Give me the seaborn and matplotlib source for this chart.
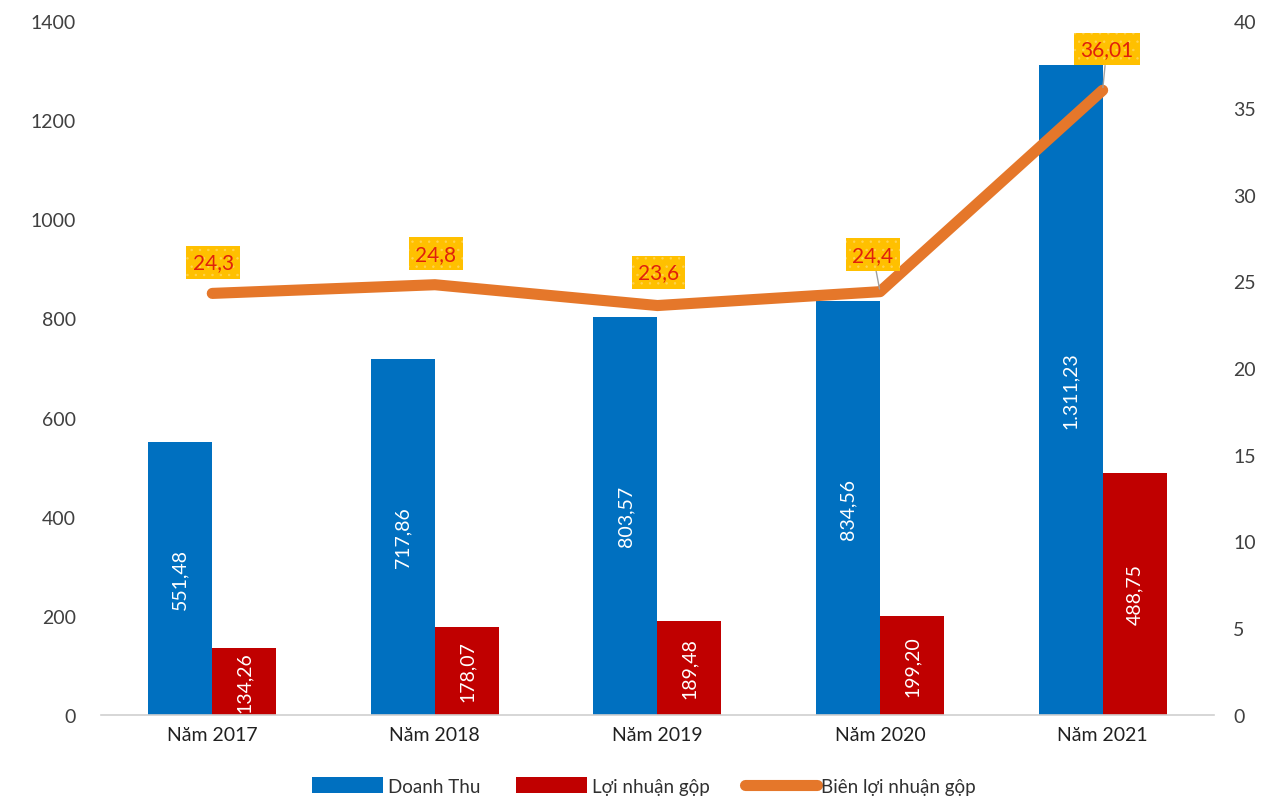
import matplotlib
matplotlib.use("Agg")
import matplotlib.pyplot as plt
from matplotlib.patches import Patch
from matplotlib.lines import Line2D
import seaborn as sns
import pandas as pd

# Data
years = ["Năm 2017", "Năm 2018", "Năm 2019", "Năm 2020", "Năm 2021"]
doanh_thu = [551.48, 717.86, 803.57, 834.56, 1311.23]
loi_nhuan_gop = [134.26, 178.07, 189.48, 199.20, 488.75]
bien_loi_nhuan = [24.3, 24.8, 23.6, 24.4, 36.01]
left_ticks = [0, 200, 400, 600, 800, 1000, 1200, 1400]
right_ticks = [0, 5, 10, 15, 20, 25, 30, 35, 40]

SERIES_DT = "Doanh Thu"
SERIES_LN = "Lợi nhuận gộp"
SERIES_BIEN = "Biên lợi nhuận gộp"

BLUE = "#0070C0"
RED = "#C00000"
ORANGE = "#E5772A"
TICK = "#404040"

sns.set_theme(style="white")
plt.rcParams["font.family"] = ["Lato", "DejaVu Sans"]
plt.rcParams["hatch.linewidth"] = 0.5


def vn_number(v):
    s = f"{v:,.2f}"
    return s.replace(",", "X").replace(".", ",").replace("X", ".")


def vn_short(v):
    return f"{v:g}".replace(".", ",")


bars = pd.DataFrame({
    "year": years * 2,
    "value": doanh_thu + loi_nhuan_gop,
    "series": [SERIES_DT] * len(years) + [SERIES_LN] * len(years),
})
line = pd.DataFrame({"year": years, "pct": bien_loi_nhuan})

fig = plt.figure(figsize=(12.88, 8.04), dpi=100)
ax = fig.add_axes([0.0784, 0.1095, 0.8641, 0.8631])

sns.barplot(data=bars, x="year", y="value", hue="series",
            palette=[BLUE, RED], width=0.575, saturation=1,
            linewidth=0, ax=ax, legend=False, order=years)

# values written inside each bar
for container in ax.containers:
    for rect in container:
        h = rect.get_height()
        ax.text(rect.get_x() + rect.get_width() / 2, h / 2, vn_number(h),
                rotation=90, ha="center", va="center",
                color="white", fontsize=14)

ax.set_ylim(0, 1400)
ax.set_yticks(left_ticks)
ax.set_xlim(-0.5, len(years) - 0.5)
ax.set_xlabel("")
ax.set_ylabel("")
ax.tick_params(axis="both", length=0, labelsize=14, colors=TICK, pad=8)
ax.tick_params(axis="y", pad=18)
for side in ["left", "right", "top"]:
    ax.spines[side].set_visible(False)
ax.spines["bottom"].set_color("#D0D0D0")
ax.spines["bottom"].set_linewidth(1.2)
for lbl in ax.get_xticklabels():
    lbl.set_color("#202020")

ax2 = ax.twinx()
sns.lineplot(data=line, x="year", y="pct", color=ORANGE, linewidth=8,
             ax=ax2, sort=False, solid_capstyle="round", legend=False)
ax2.set_ylim(0, 40)
ax2.set_yticks(right_ticks)
ax2.set_ylabel("")
ax2.set_xlim(-0.5, len(years) - 0.5)
ax2.tick_params(axis="y", length=0, labelsize=14, colors=TICK, pad=14)
for side in ["left", "right", "top", "bottom"]:
    ax2.spines[side].set_visible(False)

# margin labels in yellow boxes above the line
offsets = [(1, 31), (1, 31), (1, 33), (-7, 37), (4, 41)]
for i, v in enumerate(bien_loi_nhuan):
    dx, dy = offsets[i]
    ax2.annotate(vn_short(v), xy=(i, v), xytext=(dx, dy),
                 textcoords="offset pixels", ha="center", va="center",
                 color="#E0200C", fontsize=15,
                 bbox=dict(boxstyle="square,pad=0.3", facecolor="#FFC000",
                           edgecolor="#FFD34F", linewidth=0, hatch=".."),
                 arrowprops=dict(arrowstyle="-", color="#A0A0A0", lw=1,
                                 shrinkA=0, shrinkB=2) if dy > 35 else None,
                 zorder=5)

handles = [
    Patch(facecolor=BLUE, edgecolor="none", label=SERIES_DT),
    Patch(facecolor=RED, edgecolor="none", label=SERIES_LN),
    Line2D([0], [0], color=ORANGE, linewidth=8, solid_capstyle="round",
           label=SERIES_BIEN),
]
fig.legend(handles=handles, loc="center", bbox_to_anchor=(0.5, 0.021),
           ncol=3, frameon=False, fontsize=13.5, handlelength=3.8,
           handleheight=0.9, handletextpad=0.25, columnspacing=1.9,
           labelcolor="#303030")

fig.savefig("out.png", dpi=100)
